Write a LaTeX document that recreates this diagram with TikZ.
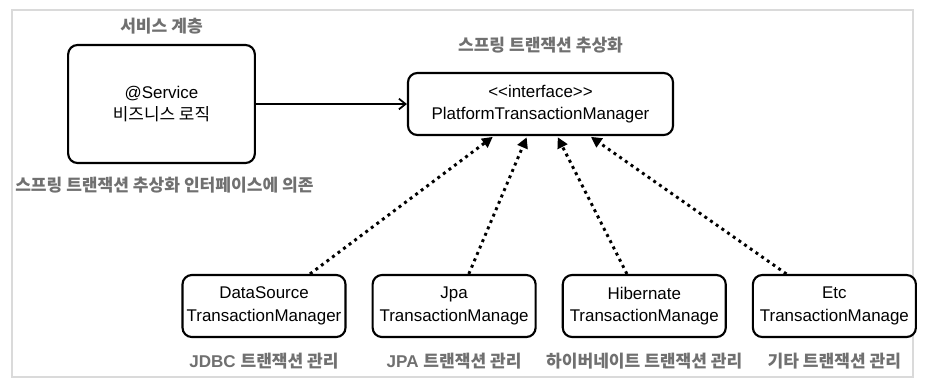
\documentclass[tikz,border=0pt]{standalone}
\usepackage{fontspec}
\setmainfont{Liberation Sans}
\newfontfamily\kr{Noto Sans CJK KR}
\usetikzlibrary{arrows.meta, positioning}

\definecolor{labelgray}{RGB}{112,112,112}
\definecolor{framegray}{RGB}{218,218,218}

\tikzset{
    sketchbox/.style={draw, line width=1.6pt, rounded corners=7pt, align=center, fill=white,
        font=\fontsize{12.7pt}{17pt}\selectfont, inner sep=0pt},
    grouplabel/.style={text=labelgray, font=\fontsize{12.8pt}{15pt}\selectfont\bfseries, inner sep=0pt},
    implarrow/.style={-{Triangle[length=8pt,width=8pt]}, line width=2.2pt, dash pattern=on 2.2pt off 3pt, shorten >=1pt}
}

\begin{document}
\begin{tikzpicture}[x=0.75pt, y=-0.75pt]
        \useasboundingbox (0,0) rectangle (944,390);
        \draw[framegray, line width=0.8pt] (12,10) rectangle (913,377);

        \node[sketchbox, minimum width=140pt, minimum height=88.5pt] (service) at (161.5,104) {@Service\\{\kr 비즈니스 로직}};
        \node[sketchbox, minimum width=198.75pt, minimum height=46.5pt] (ptm) at (540.5,104) {<\kern0pt<interface>\kern0pt>\\PlatformTransactionManager};

        \node[sketchbox, minimum width=122.25pt, minimum height=46.5pt] (datasource) at (264,306) {DataSource\\TransactionManager};
        \node[sketchbox, minimum width=122.25pt, minimum height=46.5pt] (jpa) [right = 18.75pt of datasource] {Jpa\\TransactionManage};
        \node[sketchbox, minimum width=122.25pt, minimum height=46.5pt] (hibernate) [right = 18.75pt of jpa] {Hibernate\\TransactionManage};
        \node[sketchbox, minimum width=122.25pt, minimum height=46.5pt] (etc) [right = 18.75pt of hibernate] {Etc\\TransactionManage};

        \node[grouplabel] (servicelabel) [above = 7pt of service] {\kr 서비스 계층};
        \node[grouplabel] (ptmlabel) [above = 14pt of ptm] {\kr 스프링 트랜잭션 추상화};
        \node[grouplabel, anchor=west] (dependlabel) at (15,185) {\kr 스프링 트랜잭션 추상화 인터페이스에 의존};
        \node[grouplabel] (datasourcelabel) [below = 11pt of datasource] {JDBC {\kr 트랜잭션 관리}};
        \node[grouplabel] (jpalabel) [below = 11pt of jpa] {JPA {\kr 트랜잭션 관리}};
        \node[grouplabel] (hibernatelabel) [below = 11pt of hibernate] {\kr 하이버네이트 트랜잭션 관리};
        \node[grouplabel] (etclabel) [below = 11pt of etc] {\kr 기타 트랜잭션 관리};

        \draw[-{Straight Barb[length=5pt,width=8pt]}, line width=1.3pt] (service) -- (ptm);
        \draw[implarrow] ([xshift=34.5pt]datasource.north) -- ([xshift=-35pt]ptm.south);
        \draw[implarrow] ([xshift=11pt]jpa.north) -- ([xshift=-10pt]ptm.south);
        \draw[implarrow] ([xshift=-13pt]hibernate.north) -- ([xshift=12.5pt]ptm.south);
        \draw[implarrow] ([xshift=-36pt]etc.north) -- ([xshift=37pt]ptm.south);
    \end{tikzpicture}
\end{document}
